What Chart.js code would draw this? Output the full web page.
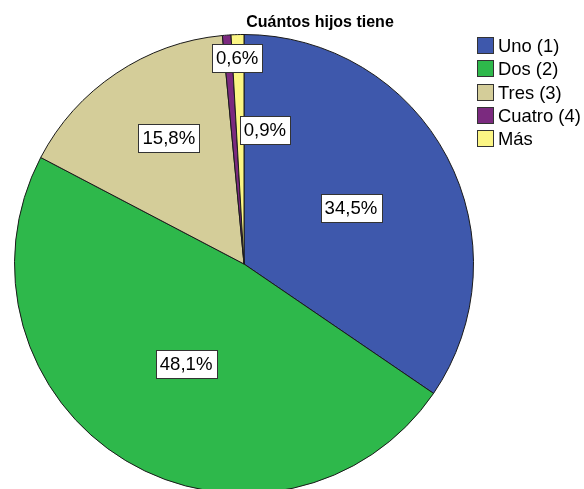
<!DOCTYPE html>
<html>
<head>
<meta charset="utf-8">
<script src="https://cdn.jsdelivr.net/npm/chart.js@4/dist/chart.umd.min.js"></script>
<style>
html,body{margin:0;padding:0;background:#fff;overflow:hidden;width:584px;height:489px;}
canvas{position:absolute;left:0;top:0;}
</style>
</head>
<body>
<canvas id="c" width="584" height="500" style="width:584px;height:500px"></canvas>
<script>
const title = "Cuántos hijos tiene";
const categories = ["Uno (1)", "Dos (2)", "Tres (3)", "Cuatro (4)", "Más"];
const values = [34.5, 48.1, 15.8, 0.6, 0.9];
const valueLabels = ["34,5%", "48,1%", "15,8%", "0,6%", "0,9%"];
const colors = ["#3e58ac", "#2eb84b", "#d4cd99", "#7b2a7f", "#fbf584"];
// label placement: angle offset from slice middle (deg), radial fraction of radius
const labelPlacement = [[0, 0.527], [-0.9, 0.503], [3.1, 0.64], [2.4, 0.898], [10.5, 0.59]];

const FONT = "'Liberation Sans', Arial, sans-serif";

const decor = {
  id: 'decor',
  afterDraw(chart) {
    const ctx = chart.ctx;
    const meta = chart.getDatasetMeta(0);
    ctx.save();
    // value labels
    ctx.font = "18.6px " + FONT;
    ctx.textBaseline = 'middle';
    ctx.textAlign = 'center';
    meta.data.forEach((arc, i) => {
      const p = arc.getProps(['x', 'y', 'startAngle', 'endAngle', 'outerRadius'], true);
      const mid = (p.startAngle + p.endAngle) / 2 + labelPlacement[i][0] * Math.PI / 180;
      const d = labelPlacement[i][1] * p.outerRadius;
      const lx = p.x + Math.cos(mid) * d;
      const ly = p.y + Math.sin(mid) * d;
      const w = ctx.measureText(valueLabels[i]).width + 8;
      const h = 28;
      const bx = Math.round(lx - w / 2) + 0.5, by = Math.round(ly - h / 2) + 0.5;
      ctx.fillStyle = '#fff';
      ctx.fillRect(bx, by, Math.round(w), h);
      ctx.strokeStyle = '#333';
      ctx.lineWidth = 1;
      ctx.strokeRect(bx, by, Math.round(w), h);
      ctx.fillStyle = '#000';
      ctx.fillText(valueLabels[i], lx, ly + 1);
    });
    // title
    ctx.font = "bold 16px " + FONT;
    ctx.textAlign = 'center';
    ctx.textBaseline = 'alphabetic';
    ctx.fillStyle = '#000';
    ctx.fillText(title, 320, 27);
    // legend
    ctx.font = "18.4px " + FONT;
    ctx.textAlign = 'left';
    ctx.textBaseline = 'middle';
    categories.forEach((c, i) => {
      const y = 37 + i * 23.3;
      const yy = Math.round(y) + 0.5;
      ctx.fillStyle = colors[i];
      ctx.fillRect(477.5, yy, 16, 16);
      ctx.strokeStyle = '#333';
      ctx.strokeRect(477.5, yy, 16, 16);
      ctx.fillStyle = '#000';
      ctx.fillText(c, 498, yy + 9);
    });
    ctx.restore();
  }
};

new Chart(document.getElementById('c'), {
  type: 'pie',
  data: {
    labels: categories,
    datasets: [{
      data: values,
      backgroundColor: colors,
      borderColor: '#1a1a1a',
      borderWidth: 1
    }]
  },
  options: {
    responsive: false,
    animation: false,
    events: [],
    layout: { padding: { left: 14, top: 34, right: 110, bottom: 6 } },
    plugins: {
      legend: { display: false },
      title: { display: false },
      tooltip: { enabled: false }
    }
  },
  plugins: [decor]
});
</script>
</body>
</html>
